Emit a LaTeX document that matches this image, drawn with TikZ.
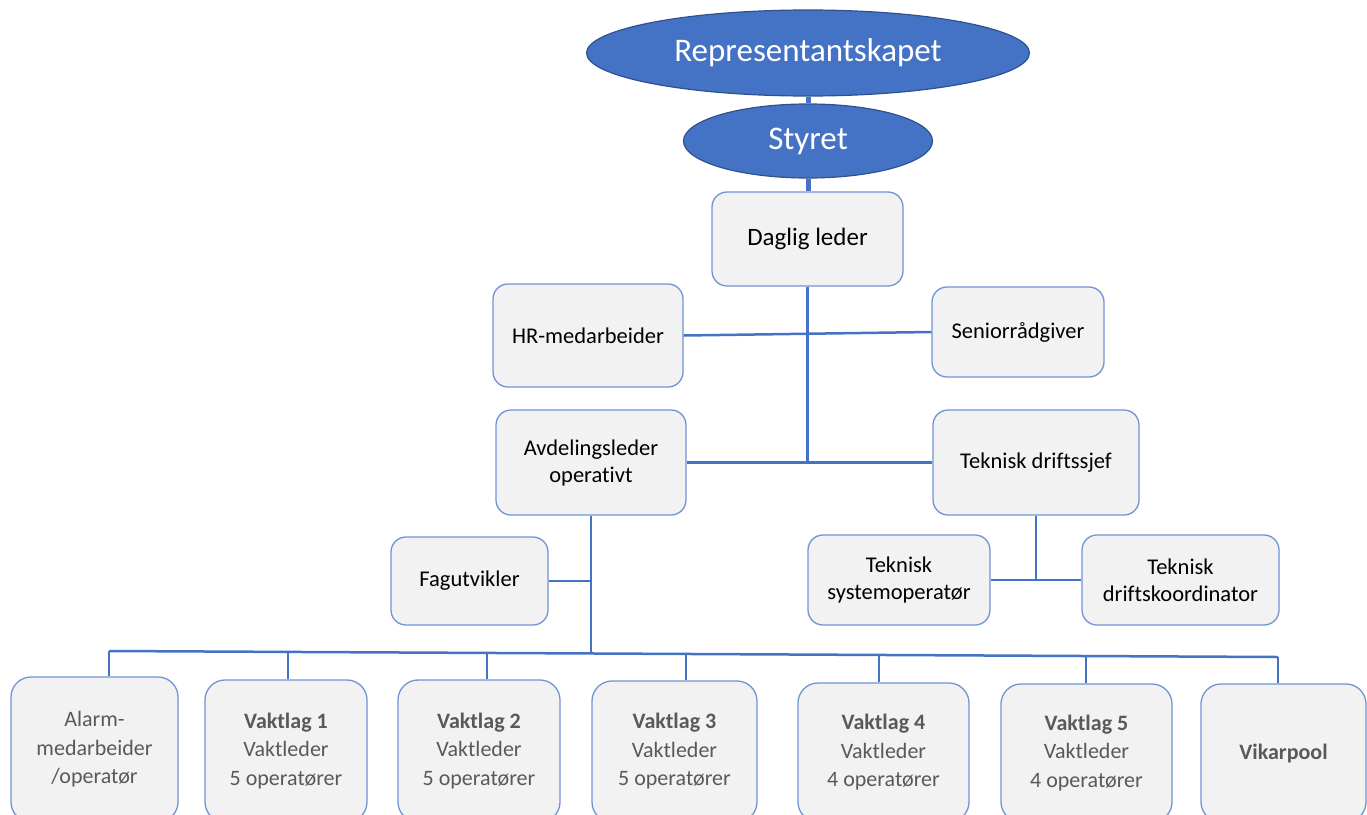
\documentclass[tikz,border=0pt]{standalone}
\usepackage{fontspec}
\setmainfont{Carlito}[Ligatures=NoCommon]
\usetikzlibrary{shapes.geometric}
\definecolor{linec}{HTML}{4472C4}
\definecolor{bordc}{HTML}{7094D4}
\definecolor{boxf}{HTML}{F2F2F2}
\definecolor{ellf}{HTML}{4472C4}
\definecolor{elld}{HTML}{2F528F}
\definecolor{grayt}{HTML}{595959}
\begin{document}
\begin{tikzpicture}[x=1pt,y=-1pt,
  ell/.style={ellipse,draw=elld,fill=ellf,line width=1.2pt,inner sep=0pt,text=white,font=\fontsize{33}{38}\selectfont},
  box/.style={draw=bordc,fill=boxf,line width=1.3pt,rounded corners=15pt,inner sep=0pt,align=center,text=black,font=\fontsize{22.5}{27}\selectfont},
  lowbox/.style={box,rounded corners=20pt,text=grayt,font=\fontsize{22}{28.5}\selectfont},
  conn/.style={draw=linec,line width=2.5pt},
  thickconn/.style={draw=linec,line width=5pt}]
\clip (0,0) rectangle (1367,814);
\useasboundingbox (0,0) rectangle (1367,814);
\node[ell,minimum width=443pt,minimum height=86pt] (rep) at (808,53) {\raisebox{-3pt}{Representantskapet}};
\node[ell,minimum width=249pt,minimum height=74pt] (sty) at (808,141) {\raisebox{-5pt}{Styret}};
\node[box,minimum width=191pt,minimum height=94pt,font=\fontsize{25}{30}\selectfont] (dl) at (807.5,239) {\raisebox{-2pt}{Daglig leder}};
\node[box,minimum width=190pt,minimum height=103pt] (hr) at (588,335.5) {HR-medarbeider};
\node[box,minimum width=172pt,minimum height=90pt] (sen) at (1018,332) {Seniorrådgiver};
\node[box,minimum width=190pt,minimum height=105pt] (avd) at (591,462.5) {Avdelingsleder\\operativt};
\node[box,minimum width=206pt,minimum height=105pt] (tds) at (1036,462.5) {Teknisk driftssjef};
\node[box,minimum width=157pt,minimum height=88pt] (fag) at (469.5,581) {Fagutvikler};
\node[box,minimum width=182pt,minimum height=90pt] (tso) at (899,580) {Teknisk\\systemoperatør};
\node[box,minimum width=197pt,minimum height=90pt] (tdk) at (1180.5,580) {Teknisk\\driftskoordinator};
\node[lowbox,minimum width=167pt,minimum height=145pt] (alarm) at (94.5,749.5) {Alarm-\\medarbeider\\/operatør};
\node[lowbox,minimum width=162pt,minimum height=142pt] (v1) at (286,751) {\textbf{Vaktlag 1}\\Vaktleder\\5 operatører};
\node[lowbox,minimum width=162pt,minimum height=142pt] (v2) at (479,751) {\textbf{Vaktlag 2}\\Vaktleder\\5 operatører};
\node[lowbox,minimum width=165pt,minimum height=141pt] (v3) at (674.5,751.5) {\textbf{Vaktlag 3}\\Vaktleder\\5 operatører};
\node[lowbox,minimum width=171pt,minimum height=139pt] (v4) at (883.5,752.5) {\textbf{Vaktlag 4}\\Vaktleder\\4 operatører};
\node[lowbox,minimum width=171pt,minimum height=138pt] (v5) at (1086.5,753) {\textbf{Vaktlag 5}\\Vaktleder\\4 operatører};
\node[lowbox,minimum width=165pt,minimum height=138pt] (vik) at (1283.5,753) {\textbf{Vikarpool}};
% connectors
\draw[thickconn] (rep.south) -- (sty.north);
\draw[thickconn] (sty.south) -- (sty.south |- dl.north);
\coordinate (dlj) at (dl.south |- avd.east);
\draw[conn] (dl.south) -- (dlj);
\draw[conn] (hr.east) -- (sen.west);
\draw[conn] (avd.east) -- (tds.west);
\coordinate (tj) at (tds.south |- tso.east);
\draw[conn] (tds.south) -- (tj);
\draw[conn] (tso.east) -- (tdk.west);
\coordinate (avj) at (591,652.6);
\draw[conn] (avd.south) -- (avj);
\draw[conn] (fag.east) -- (fag.east -| avd.south);
\coordinate (b0) at (109,651);
\coordinate (b1) at (288,651.9);
\coordinate (b2) at (487,652.9);
\coordinate (b3) at (686,654);
\coordinate (b4) at (879,655);
\coordinate (b5) at (1086,656);
\coordinate (b6) at (1278,657);
\draw[conn] (b0) -- (b6);
\draw[conn] (b0) -- (b0 |- alarm.north);
\draw[conn] (b1) -- (b1 |- v1.north);
\draw[conn] (b2) -- (b2 |- v2.north);
\draw[conn] (b3) -- (b3 |- v3.north);
\draw[conn] (b4) -- (b4 |- v4.north);
\draw[conn] (b5) -- (b5 |- v5.north);
\draw[conn] (b6) -- (b6 |- vik.north);
\end{tikzpicture}
\end{document}
